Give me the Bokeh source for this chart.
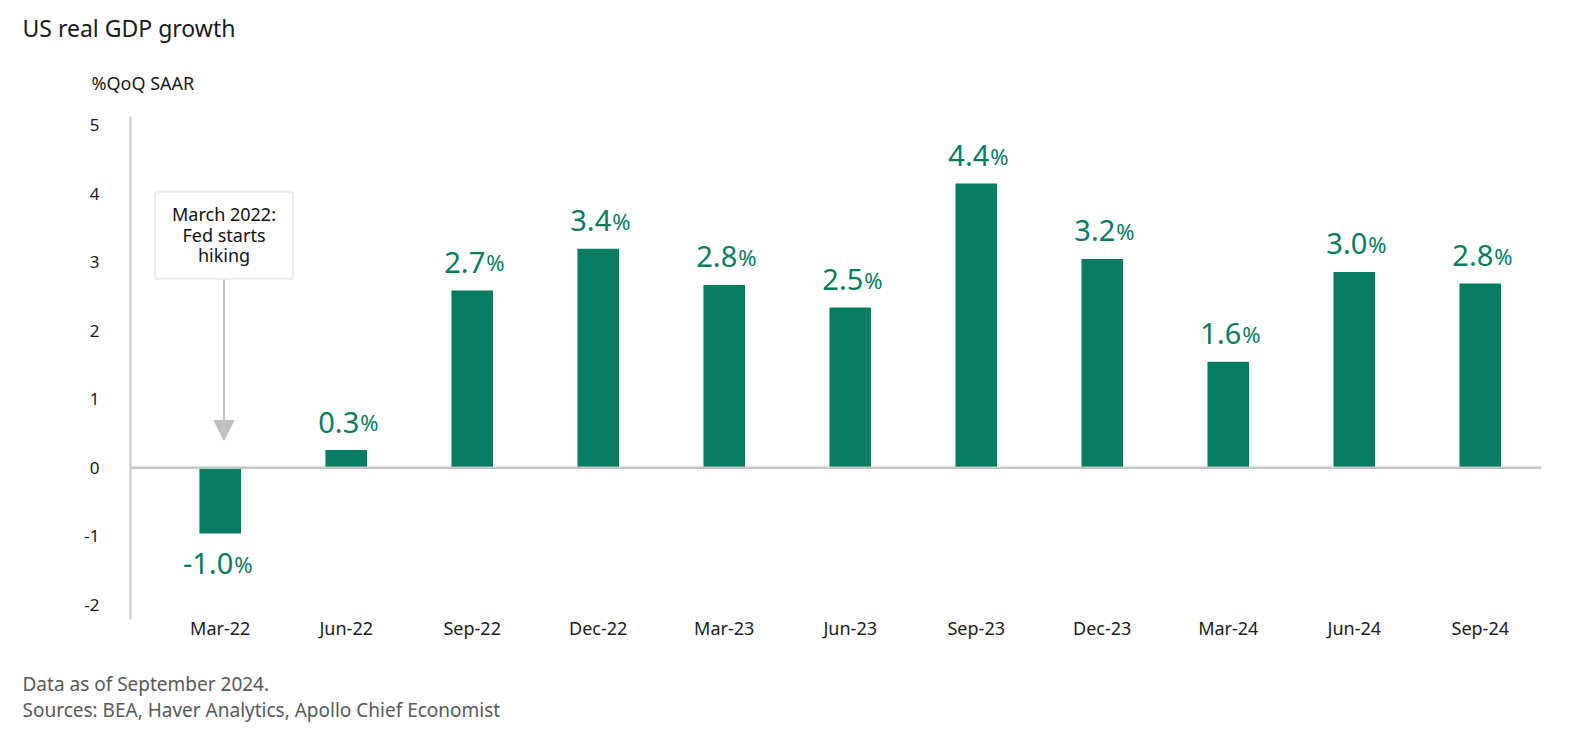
from bokeh.plotting import figure
from bokeh.models import (ColumnDataSource, Range1d, FixedTicker, Span, BoxAnnotation,
                          Arrow, NormalHead, Title)
from bokeh.core.properties import value
from bokeh.embed import file_html
from bokeh.resources import INLINE

# ---- data ----
categories = ["Mar-22", "Jun-22", "Sep-22", "Dec-22", "Mar-23", "Jun-23",
              "Sep-23", "Dec-23", "Mar-24", "Jun-24", "Sep-24"]
bar_values = [-0.96, 0.26, 2.59, 3.20, 2.67, 2.34, 4.15, 3.05, 1.55, 2.86, 2.69]
label_values = [-1.0, 0.3, 2.7, 3.4, 2.8, 2.5, 4.4, 3.2, 1.6, 3.0, 2.8]
y_ticks = [-2, -1, 0, 1, 2, 3, 4, 5]
title_text = "US real GDP growth"
unit_text = "%QoQ SAAR"
note_text = "Data as of September 2024."
source_text = "Sources: BEA, Haver Analytics, Apollo Chief Economist"
annot_lines = ["March 2022:", "Fed starts", "hiking"]

FONT = "Noto Sans"
GREEN = "#087C63"
GREY = "#C6C6C6"
W, H = 1556, 724

xs = list(range(len(categories)))
src = ColumnDataSource(dict(
    x=xs,
    top=bar_values,
    num=[f"{v:.1f}" for v in label_values],
    pct=["%"] * len(label_values),
    yoff=[-28 if v >= 0 else 30 for v in bar_values],
))

p = figure(width=W, height=H, output_backend="svg", toolbar_location=None,
           x_range=Range1d(-0.712, 10.486), y_range=Range1d(-2.215, 5.13),
           min_border_left=130, min_border_right=15, min_border_top=116,
           min_border_bottom=105)
p.outline_line_color = None
p.grid.visible = False
p.background_fill_color = "white"
p.border_fill_color = "white"

# y axis
p.yaxis.ticker = FixedTicker(ticks=y_ticks)
p.yaxis.major_label_overrides = {t: str(t) for t in y_ticks}
p.yaxis.axis_line_color = GREY
p.yaxis.axis_line_width = 2
p.yaxis.major_tick_line_color = None
p.yaxis.minor_tick_line_color = None
p.yaxis.major_tick_out = 0
p.yaxis.major_tick_in = 0
p.yaxis.major_label_standoff = 31
p.yaxis.major_label_text_font = FONT
p.yaxis.major_label_text_font_size = "17px"
p.yaxis.major_label_text_color = "#1a1a1a"

# x axis
p.xaxis.ticker = FixedTicker(ticks=xs)
p.xaxis.major_label_overrides = {i: c for i, c in zip(xs, categories)}
p.xaxis.axis_line_color = None
p.xaxis.major_tick_line_color = None
p.xaxis.minor_tick_line_color = None
p.xaxis.major_tick_out = 0
p.xaxis.major_tick_in = 0
p.xaxis.major_label_standoff = -4
p.xaxis.major_label_text_font = FONT
p.xaxis.major_label_text_font_size = "18px"
p.xaxis.major_label_text_color = "#1a1a1a"

# zero line
p.add_layout(Span(location=0, dimension="width", line_color=GREY, line_width=2.5))

# bars
p.vbar(x="x", top="top", bottom=0, width=0.33, source=src,
       fill_color=GREEN, line_color=None)

# value labels
p.text(x="x", y="top", text="num", source=src, x_offset=13, y_offset="yoff",
       text_align="right", text_baseline="alphabetic",
       text_font=value(FONT), text_font_size="29px", text_color=GREEN)
p.text(x="x", y="top", text="pct", source=src, x_offset=14, y_offset="yoff",
       text_align="left", text_baseline="alphabetic",
       text_font=value(FONT), text_font_size="22px", text_color=GREEN)

# annotation box + arrow
ax = 0.03
p.add_layout(BoxAnnotation(left=ax - 0.546, right=ax + 0.546, top=4.03, bottom=2.76,
                           fill_color="white", fill_alpha=1.0, level="underlay",
                           line_color="#BFBFBF", line_width=2))
p.add_layout(Arrow(x_start=ax, y_start=2.75, x_end=ax, y_end=0.40,
                   line_color="#BFBFBF", line_width=2,
                   end=NormalHead(size=20, fill_color="#BFBFBF", line_color="#BFBFBF")))
annot_src = ColumnDataSource(dict(x=[ax] * 3, y=[4.03] * 3,
                                  t=annot_lines, yo=[22, 43, 63.5]))
p.text(x="x", y="y", text="t", y_offset="yo", source=annot_src,
       text_align="center", text_baseline="alphabetic",
       text_font=value(FONT), text_font_size="18px", text_color="#111111")

# titles and notes as side-panel titles
def make_title(txt, size, color, offset, standoff):
    return Title(text=txt, align="left", offset=offset, standoff=standoff,
                 text_font=FONT, text_font_size=size, text_font_style="normal",
                 text_color=color)

p.add_layout(make_title(unit_text, "18px", "#1a1a1a", -39, 43), "above")
p.add_layout(make_title(title_text, "23px", "#1a1a1a", -108, 8), "above")

# footer: a leading blank line keeps the notes clear of the category labels
footer = make_title("\n" + note_text + "\n" + source_text, "19px", "#595959", -108, 0)
p.add_layout(footer, "below")

open("out.html", "w").write(file_html(p, INLINE))
